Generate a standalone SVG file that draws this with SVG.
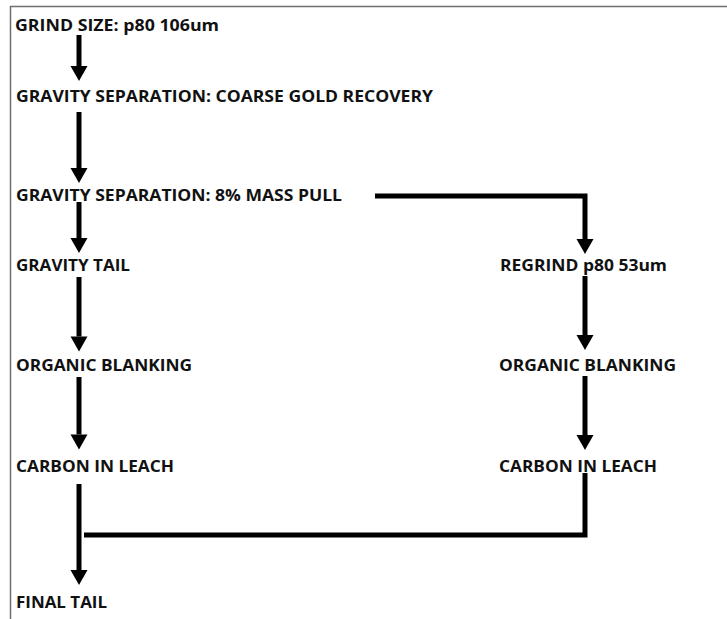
<svg xmlns="http://www.w3.org/2000/svg" width="727" height="619" viewBox="0 0 727 619">
<defs>
<marker id="ah" markerUnits="userSpaceOnUse" markerWidth="16" markerHeight="18" refX="0" refY="0" orient="auto" viewBox="0 -9 16 18" overflow="visible">
<path d="M0,-8.5 L15,0 L0,8.5 z" fill="#000"/>
</marker>
<style>
.t{font-family:"Open Sans","Liberation Sans",sans-serif;font-weight:bold;font-size:16px;fill:#111}
.c{fill:none;stroke:#000;stroke-width:5;stroke-linecap:butt;stroke-linejoin:miter}
.a{marker-end:url(#ah)}
.b{stroke:#6e6e6e;stroke-width:1.5;fill:none}
</style>
</defs>
<rect width="727" height="619" fill="#fff"/>
<path class="b" d="M10.5,619 V6.5 H727"/>
<g id="n-grind"><text class="t" x="15" y="30.5" textLength="204" lengthAdjust="spacingAndGlyphs">GRIND SIZE: p80 106um</text></g>
<g id="n-coarse"><text class="t" x="16" y="101.5" textLength="417" lengthAdjust="spacingAndGlyphs">GRAVITY SEPARATION: COARSE GOLD RECOVERY</text></g>
<g id="n-masspull"><text class="t" x="16" y="201" textLength="326" lengthAdjust="spacingAndGlyphs">GRAVITY SEPARATION: 8% MASS PULL</text></g>
<g id="n-gtail"><text class="t" x="16" y="270.5" textLength="114" lengthAdjust="spacingAndGlyphs">GRAVITY TAIL</text></g>
<g id="n-regrind"><text class="t" x="500" y="270.5" textLength="167" lengthAdjust="spacingAndGlyphs">REGRIND p80 53um</text></g>
<g id="n-org1"><text class="t" x="16" y="370.5" textLength="176" lengthAdjust="spacingAndGlyphs">ORGANIC BLANKING</text></g>
<g id="n-org2"><text class="t" x="499" y="370.5" textLength="177" lengthAdjust="spacingAndGlyphs">ORGANIC BLANKING</text></g>
<g id="n-cil1"><text class="t" x="16" y="472" textLength="158" lengthAdjust="spacingAndGlyphs">CARBON IN LEACH</text></g>
<g id="n-cil2"><text class="t" x="499" y="472" textLength="158" lengthAdjust="spacingAndGlyphs">CARBON IN LEACH</text></g>
<g id="n-final"><text class="t" x="16" y="607.5" textLength="91" lengthAdjust="spacingAndGlyphs">FINAL TAIL</text></g>
<g id="connectors">
<path class="c a" d="M79,35 V66"/>
<path class="c a" d="M79,112 V168"/>
<path class="c a" d="M79,202 V238"/>
<path class="c a" d="M79,277 V336.5"/>
<path class="c a" d="M79,377 V434.5"/>
<path class="c a" d="M79,484 V570"/>
<path class="c a" d="M375,196 H585 V239"/>
<path class="c a" d="M585,276 V335"/>
<path class="c a" d="M585,376 V435"/>
<path class="c" d="M585,473 V535 H84"/>
</g>
</svg>
